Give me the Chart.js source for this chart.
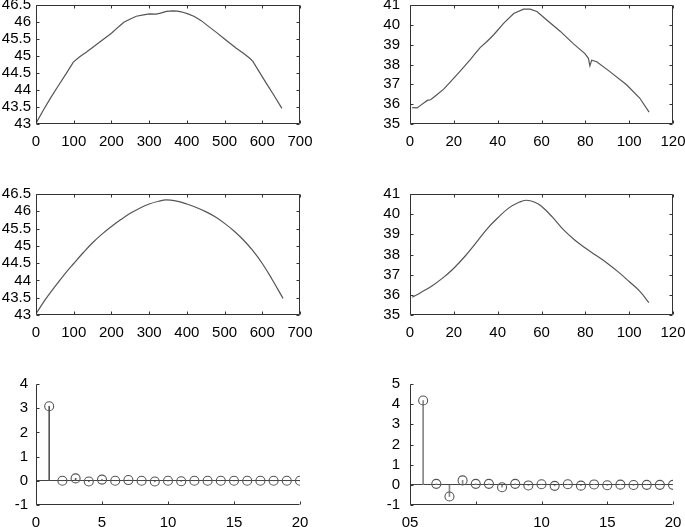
<!DOCTYPE html>
<html>
<head>
<meta charset="utf-8">
<script src="https://cdn.jsdelivr.net/npm/chart.js@4/dist/chart.umd.min.js"></script>
<style>
  html, body { margin: 0; padding: 0; background: #fff; }
  body { width: 685px; height: 527px; position: relative; overflow: hidden; }
  .cell { position: absolute; }
</style>
</head>
<body>
<div class="cell" style="left:0;top:0"><canvas id="c1" width="330" height="170"></canvas></div>
<div class="cell" style="left:355px;top:0"><canvas id="c2" width="330" height="170"></canvas></div>
<div class="cell" style="left:0;top:176px"><canvas id="c3" width="330" height="170"></canvas></div>
<div class="cell" style="left:355px;top:176px"><canvas id="c4" width="330" height="170"></canvas></div>
<div class="cell" style="left:0;top:366px"><canvas id="c5" width="330" height="161"></canvas></div>
<div class="cell" style="left:355px;top:366px"><canvas id="c6" width="330" height="161"></canvas></div>
<script>
// top left: raw profile
const tlX = [1, 20, 40, 60, 80, 99, 115, 133, 150, 170, 200, 220, 233, 250, 266, 285, 301, 319, 330, 346, 363, 375, 385, 403, 420, 438, 460, 480, 500, 531, 550, 566, 575, 590, 610, 630, 652];
const tlY = [43.04, 43.42, 43.79, 44.14, 44.48, 44.82, 44.97, 45.11, 45.25, 45.42, 45.67, 45.87, 45.99, 46.09, 46.17, 46.21, 46.24, 46.23, 46.26, 46.31, 46.33, 46.32, 46.30, 46.24, 46.16, 46.04, 45.85, 45.68, 45.50, 45.23, 45.08, 44.94, 44.84, 44.57, 44.21, 43.86, 43.46];

// top right: raw profile
const trX = [1, 3.3, 4.8, 7.9, 9.4, 12.4, 15.5, 20, 23, 27.6, 29.8, 32, 35, 38.2, 42.7, 47.3, 51.8, 54.8, 57.9, 62.4, 68.5, 74.5, 79.8, 81.4, 82.1, 82.9, 85.2, 91.2, 98.8, 104.8, 109.1];
const trY = [35.83, 35.81, 35.94, 36.19, 36.22, 36.49, 36.77, 37.31, 37.68, 38.26, 38.56, 38.85, 39.15, 39.5, 40.07, 40.57, 40.79, 40.79, 40.67, 40.24, 39.68, 39.05, 38.55, 38.31, 37.93, 38.22, 38.14, 37.64, 36.98, 36.31, 35.6];

// middle left: smoothed profile
const mlX = [1, 25, 50, 75, 100, 125, 150, 175, 200, 225, 250, 275, 300, 325, 345, 370, 400, 425, 450, 475, 500, 525, 550, 575, 600, 625, 655];
const mlY = [43.05, 43.45, 43.82, 44.17, 44.49, 44.80, 45.09, 45.34, 45.56, 45.76, 45.94, 46.09, 46.21, 46.29, 46.33, 46.30, 46.21, 46.11, 45.99, 45.84, 45.65, 45.43, 45.17, 44.86, 44.49, 44.05, 43.48];

// middle right: smoothed profile
const mrX = [1, 5, 10, 15, 20, 25, 30, 35, 40, 45, 50, 53, 57, 60, 65, 70, 75, 80, 85, 90, 95, 100, 105, 109];
const mrY = [35.88, 36.12, 36.44, 36.84, 37.32, 37.90, 38.56, 39.25, 39.81, 40.30, 40.60, 40.69, 40.59, 40.39, 39.85, 39.23, 38.73, 38.32, 37.95, 37.57, 37.14, 36.66, 36.16, 35.61];

// bottom: coefficients (stem plots)
const stemIdx = [1, 2, 3, 4, 5, 6, 7, 8, 9, 10, 11, 12, 13, 14, 15, 16, 17, 18, 19, 20];
const blY = [3.08, 0.0, 0.1, -0.03, 0.05, 0.0, 0.03, 0.0, -0.03, 0.0, -0.02, 0.0, 0.0, 0.0, 0.0, 0.0, 0.0, 0.0, 0.0, 0.0];
const brY = [4.18, 0.05, -0.58, 0.22, 0.05, 0.05, -0.12, 0.05, -0.03, 0.03, -0.05, 0.03, -0.04, 0.02, -0.02, 0.01, -0.01, 0.0, 0.0, 0.0];
const brXLabels = { 0: '05', 5: '', 10: '10', 15: '15', 20: '20' };

const FONT = { family: "'Liberation Sans', Arial, Helvetica, sans-serif", size: 15 };
const LINE = '#555';
const AXIS = '#333';

// box / axis lines with inward tick marks
const frame = {
  id: 'frame',
  afterDatasetsDraw(chart, args, opts) {
    const { ctx, chartArea: a, scales: { x, y } } = chart;
    const L = Math.round(a.left) + 0.5, R = Math.round(a.right) - 0.5;
    const T = Math.round(a.top) + 0.5, B = Math.round(a.bottom) - 0.5;
    ctx.save();
    ctx.strokeStyle = AXIS;
    ctx.lineWidth = 1;
    ctx.beginPath();
    if (opts.box) {
      ctx.rect(L, T, R - L, B - T);
    } else {
      ctx.moveTo(L, T); ctx.lineTo(L, B); ctx.lineTo(R, B);
    }
    const len = 3;
    x.ticks.forEach(t => {
      const px = Math.round(x.getPixelForValue(t.value)) + 0.5;
      ctx.moveTo(px, B); ctx.lineTo(px, B - len);
      if (opts.box) { ctx.moveTo(px, T); ctx.lineTo(px, T + len); }
    });
    y.ticks.forEach(t => {
      const py = Math.round(y.getPixelForValue(t.value)) + 0.5;
      ctx.moveTo(L, py); ctx.lineTo(L + len, py);
      if (opts.box) { ctx.moveTo(R, py); ctx.lineTo(R - len, py); }
    });
    ctx.stroke();
    ctx.restore();
  }
};

function fixSize(prop, v) {
  return function (scale) {
    scale[prop] = v;
    scale.paddingTop = 0; scale.paddingBottom = 0;
    scale.paddingLeft = 0; scale.paddingRight = 0;
  };
}

const plainNum = v => String(Math.round(v * 10) / 10);

function axes(cfg) {
  return {
    x: {
      type: 'linear', min: cfg.xMin, max: cfg.xMax, offset: false,
      grid: { display: false, drawTicks: false, offset: false },
      border: { display: false },
      ticks: {
        stepSize: cfg.xStep, padding: 9, color: '#000', font: FONT, maxRotation: 0,
        autoSkip: false, includeBounds: false,
        callback: cfg.xCallback || plainNum
      },
      afterFit: fixSize('height', cfg.xH)
    },
    y: {
      type: 'linear', min: cfg.yMin, max: cfg.yMax,
      grid: cfg.zeroLine
        ? { drawTicks: false, color: c => (c.tick && c.tick.value === 0 ? '#444' : 'rgba(0,0,0,0)') }
        : { display: false, drawTicks: false },
      border: { display: false },
      ticks: { stepSize: cfg.yStep, padding: cfg.yPad, color: '#000', font: FONT, autoSkip: false, callback: plainNum },
      afterFit: fixSize('width', cfg.yW)
    }
  };
}

function baseOptions(cfg) {
  return {
    responsive: false,
    animation: false,
    events: [],
    layout: { padding: { left: 0, top: cfg.padTop, right: cfg.padRight, bottom: 0 } },
    plugins: { legend: { display: false }, tooltip: { enabled: false }, frame: { box: cfg.box } },
    scales: axes(cfg)
  };
}

function lineChart(id, xs, ys, cfg, tension) {
  new Chart(document.getElementById(id), {
    type: 'scatter',
    data: {
      datasets: [{
        data: xs.map((x, i) => ({ x: x, y: ys[i] })),
        showLine: true, borderColor: LINE, borderWidth: 1.2,
        pointRadius: 0, tension: tension, fill: false
      }]
    },
    options: baseOptions(cfg),
    plugins: [frame]
  });
}

function stemChart(id, xs, ys, cfg, stemColor) {
  const pts = xs.map((x, i) => ({ x: x, y: ys[i] }));
  new Chart(document.getElementById(id), {
    type: 'scatter',
    data: {
      datasets: [
        { type: 'bar', data: pts, backgroundColor: stemColor, barThickness: 1, order: 2 },
        {
          type: 'scatter', data: pts, pointRadius: 4.5, pointBorderWidth: 1.1,
          borderColor: LINE, backgroundColor: 'rgba(0,0,0,0)', order: 1
        }
      ]
    },
    options: baseOptions(cfg),
    plugins: [frame]
  });
}

const col1 = { yW: 36, padRight: 30 };
const col2 = { yW: 55, padRight: 12 };

lineChart('c1', tlX, tlY, Object.assign({}, col1, {
  padTop: 5, xH: 46, xMin: 0, xMax: 700, xStep: 100, yMin: 43, yMax: 46.5, yStep: 0.5, yPad: 5, box: true
}), 0);
lineChart('c2', trX, trY, Object.assign({}, col2, {
  padTop: 5, xH: 46, xMin: 0, xMax: 120, xStep: 20, yMin: 35, yMax: 41, yStep: 1, yPad: 10, box: true
}), 0);
lineChart('c3', mlX, mlY, Object.assign({}, col1, {
  padTop: 18, xH: 31, xMin: 0, xMax: 700, xStep: 100, yMin: 43, yMax: 46.5, yStep: 0.5, yPad: 5, box: true
}), 0.4);
lineChart('c4', mrX, mrY, Object.assign({}, col2, {
  padTop: 18, xH: 31, xMin: 0, xMax: 120, xStep: 20, yMin: 35, yMax: 41, yStep: 1, yPad: 10, box: true
}), 0.4);
stemChart('c5', stemIdx, blY, Object.assign({}, col1, {
  padTop: 18, xH: 22, xMin: 0, xMax: 20, xStep: 5, yMin: -1, yMax: 4, yStep: 1, yPad: 8, box: false, zeroLine: true
}), LINE);
stemChart('c6', stemIdx, brY, Object.assign({}, col2, {
  padTop: 18, xH: 22, xMin: 0, xMax: 20, xStep: 5, yMin: -1, yMax: 5, yStep: 1, yPad: 10, box: false, zeroLine: true,
  xCallback: v => (brXLabels[v] !== undefined ? brXLabels[v] : v)
}), '#888');
</script>
</body>
</html>
